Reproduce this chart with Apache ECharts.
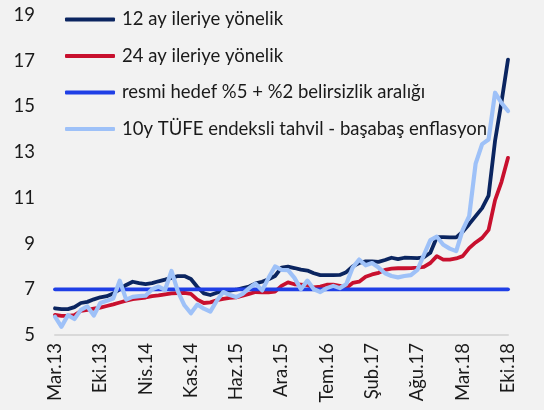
<!DOCTYPE html>
<html><head><meta charset="utf-8">
<script src="https://cdn.jsdelivr.net/npm/echarts@6/dist/echarts.min.js"></script>
<style>html,body{margin:0;padding:0;background:#f2f2f2}#c{width:544px;height:410px}</style>
</head><body><div id="c"></div>
<script>
const tickLabels = ['Mar.13','Eki.13','Nis.14','Kas.14','Haz.15','Ara.15','Tem.16','Şub.17','Ağu.17','Mar.18','Eki.18'];
const seriesNames = ['12 ay ileriye yönelik','24 ay ileriye yönelik','resmi hedef %5 + %2 belirsizlik aralığı','10y TÜFE endeksli tahvil - başabaş enflasyon'];
const ay12 = [6.17,6.13,6.13,6.22,6.40,6.45,6.56,6.65,6.70,6.82,
  7.00,7.19,7.33,7.27,7.23,7.27,7.35,7.42,7.50,7.58,
  7.58,7.45,7.10,6.82,6.75,6.85,6.94,6.94,6.98,7.05,
  7.12,7.26,7.33,7.44,7.58,7.95,7.99,7.93,7.86,7.82,
  7.70,7.62,7.62,7.62,7.63,7.75,8.00,8.15,8.22,8.22,
  8.20,8.28,8.38,8.32,8.38,8.37,8.36,8.40,8.60,9.28,
  9.28,9.27,9.27,9.52,9.85,10.20,10.55,11.10,13.50,15.20,
  17.05];
const ay24 = [5.88,5.84,5.84,5.87,6.05,6.10,6.15,6.20,6.27,6.34,
  6.42,6.50,6.57,6.60,6.64,6.70,6.73,6.78,6.82,6.83,
  6.84,6.80,6.55,6.40,6.43,6.52,6.58,6.62,6.65,6.72,
  6.80,6.88,6.87,6.87,6.90,7.15,7.30,7.22,7.20,7.18,
  7.08,7.12,7.20,7.20,7.15,7.06,7.28,7.33,7.55,7.65,
  7.72,7.85,7.90,7.92,7.92,7.93,7.95,7.98,8.15,8.45,
  8.30,8.30,8.35,8.45,8.80,9.05,9.25,9.60,10.90,11.70,
  12.75];
const hedef = [7,7,7,7,7,7,7,7,7,7, 7,7,7,7,7,7,7,7,7,7, 7,7,7,7,7,7,7,7,7,7,
  7,7,7,7,7,7,7,7,7,7, 7,7,7,7,7,7,7,7,7,7, 7,7,7,7,7,7,7,7,7,7, 7,7,7,7,7,7,7,7,7,7, 7];
const tufe10y = [5.80,5.36,5.87,5.70,6.10,6.25,5.85,6.40,6.50,6.60,
  7.38,6.55,6.67,6.70,6.72,7.00,7.12,6.97,7.80,6.90,
  6.30,5.95,6.33,6.15,6.02,6.50,6.88,6.75,6.66,6.80,
  7.05,7.25,6.95,7.50,8.00,7.85,7.84,7.50,7.00,7.38,
  7.00,6.88,7.05,7.15,7.05,7.22,7.95,8.30,8.05,8.15,
  7.95,7.70,7.58,7.52,7.58,7.62,7.85,8.50,9.15,9.30,
  8.95,8.78,8.67,9.60,10.20,12.50,13.35,13.55,15.60,15.15,
  14.80];
const pointsPerTick = 7;
const categories = ay12.map((_, i) => i % pointsPerTick === 0 ? tickLabels[i / pointsPerTick] : String(i));
const colors = ['#0b2560','#c8102e','#1f3fe6','#9ec1f8'];
const FONT = 'Lato';
const chart = echarts.init(document.getElementById('c'), null, {renderer:'canvas'});
const mk = (name, data, color, width) => ({
  name, type:'line', data, symbol:'none', showSymbol:false, animation:false,
  lineStyle:{color, width, cap:'round', join:'round'}, itemStyle:{color}
});
chart.setOption({
  backgroundColor:'#f2f2f2',
  animation:false,
  grid:{left:55, right:36, top:15, bottom:75, containLabel:false},
  legend:{
    orient:'vertical', left:65, top:10, padding:0, itemGap:17.5,
    itemWidth:50, itemHeight:4, icon:'roundRect',
    textStyle:{fontFamily:FONT, fontSize:18.5, color:'#1a1a1a', padding:[0,0,0,2]},
    data:seriesNames
  },
  xAxis:{
    type:'category', data:categories, boundaryGap:false,
    axisLine:{show:true, lineStyle:{color:'#d9d9d9', width:2}},
    axisTick:{show:false},
    axisLabel:{interval:pointsPerTick-1, rotate:90, margin:8, fontFamily:FONT, fontSize:18.5, color:'#1a1a1a'},
    splitLine:{show:false}
  },
  yAxis:{
    type:'value', min:5, max:19, interval:2,
    axisLine:{show:false}, axisTick:{show:false}, splitLine:{show:false},
    axisLabel:{margin:20, fontFamily:FONT, fontSize:18.5, color:'#1a1a1a'}
  },
  series:[
    mk(seriesNames[0], ay12, colors[0], 3.8),
    mk(seriesNames[1], ay24, colors[1], 3.8),
    mk(seriesNames[2], hedef, colors[2], 3.8),
    mk(seriesNames[3], tufe10y, colors[3], 4.2)
  ]
});
</script></body></html>
